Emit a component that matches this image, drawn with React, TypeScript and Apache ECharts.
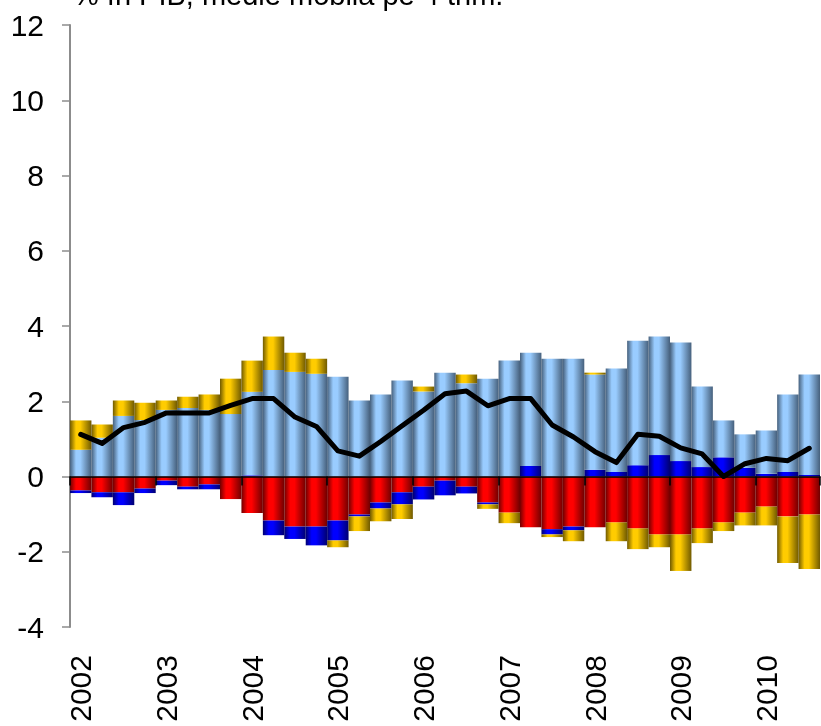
import React, { useEffect, useRef } from "react";
import * as echarts from "echarts";

const quarters = [
  "2002T1", "2002T2", "2002T3", "2002T4",
  "2003T1", "2003T2", "2003T3", "2003T4",
  "2004T1", "2004T2", "2004T3", "2004T4",
  "2005T1", "2005T2", "2005T3", "2005T4",
  "2006T1", "2006T2", "2006T3", "2006T4",
  "2007T1", "2007T2", "2007T3", "2007T4",
  "2008T1", "2008T2", "2008T3", "2008T4",
  "2009T1", "2009T2", "2009T3", "2009T4",
  "2010T1", "2010T2", "2010T3",
];

const seriesRed = [
  -0.37, -0.42, -0.42, -0.32, -0.11, -0.27, -0.21, -0.6,
  -0.97, -1.17, -1.33, -1.33, -1.17, -1.01, -0.69, -0.42,
  -0.27, -0.11, -0.27, -0.69, -0.96, -1.35, -1.4, -1.33,
  -1.35, -1.22, -1.38, -1.54, -1.54, -1.38, -1.22, -0.96,
  -0.8, -1.06, -1.01,
];

const seriesBlue = [
  -0.07, -0.13, -0.34, -0.12, -0.12, -0.07, -0.13, 0,
  0.03, -0.39, -0.33, -0.5, -0.53, -0.05, -0.16, -0.32,
  -0.34, -0.39, -0.18, -0.05, 0, 0.28, -0.14, -0.1,
  0.18, 0.12, 0.3, 0.57, 0.41, 0.25, 0.51, 0.23,
  0.07, 0.12, 0.04,
];

const seriesLightBlue = [
  0.71, 1.03, 1.61, 1.5, 1.77, 1.82, 1.77, 1.66,
  2.22, 2.83, 2.78, 2.73, 2.65, 2.02, 2.18, 2.55,
  2.26, 2.76, 2.48, 2.6, 3.08, 3.01, 3.13, 3.13,
  2.53, 2.75, 3.31, 3.15, 3.15, 2.14, 0.98, 0.89,
  1.15, 2.06, 2.67,
];

const seriesGold = [
  0.78, 0.35, 0.41, 0.46, 0.25, 0.3, 0.41, 0.94,
  0.83, 0.89, 0.51, 0.4, -0.18, -0.39, -0.34, -0.39,
  0.13, 0, 0.23, -0.12, -0.28, 0, -0.07, -0.29,
  0.05, -0.5, -0.55, -0.34, -0.97, -0.39, -0.23, -0.34,
  -0.5, -1.24, -1.45,
];

const seriesLine = [
  1.12, 0.88, 1.3, 1.44, 1.69, 1.69, 1.69, 1.89,
  2.07, 2.07, 1.58, 1.33, 0.68, 0.54, 0.93, 1.35,
  1.76, 2.2, 2.27, 1.88, 2.07, 2.07, 1.37, 1.05,
  0.66, 0.37, 1.12, 1.07, 0.76, 0.6, 0.0, 0.34,
  0.48, 0.42, 0.75,
];

const FONT = "'Liberation Sans', Arial, sans-serif";

function cyl(dark: string, light: string) {
  return new echarts.graphic.LinearGradient(0, 0, 1, 0, [
    { offset: 0, color: dark },
    { offset: 0.28, color: light },
    { offset: 0.48, color: light },
    { offset: 1, color: dark },
  ]);
}

export default function App() {
  const ref = useRef<HTMLDivElement>(null);
  useEffect(() => {
    const chart = echarts.init(ref.current!, null, { renderer: "svg" });
    chart.setOption({
      animation: false,
      textStyle: { fontFamily: FONT },
      grid: { left: 70, right: 1, top: 25, bottom: 99, outerBoundsMode: "none" },
      graphic: [
        {
          type: "text",
          x: 73,
          y: -5,
          style: {
            text: "% în PIB, medie mobilă pe 4 trim.",
            font: `29px ${FONT}`,
            fill: "#000",
            verticalAlign: "middle",
          },
        },
      ],
      xAxis: [
        {
          type: "category",
          data: quarters,
          boundaryGap: true,
          position: "bottom",
          z: 10,
          axisLine: { onZero: true, lineStyle: { color: "#000", width: 1.5 } },
          axisTick: { show: true, interval: 3, length: 9, lineStyle: { color: "#000", width: 1.5 } },
          axisLabel: { show: false },
          splitLine: { show: false },
        },
        {
          type: "category",
          data: quarters,
          boundaryGap: true,
          position: "bottom",
          axisLine: { show: false, onZero: false },
          axisTick: { show: false },
          axisLabel: {
            interval: 3,
            rotate: 90,
            margin: 28,
            fontSize: 30,
            color: "#000",
            fontFamily: FONT,
            formatter: (v: string) => v.slice(0, 4),
          },
          splitLine: { show: false },
        },
      ],
      yAxis: {
        type: "value",
        min: -4,
        max: 12,
        interval: 2,
        axisLine: { show: true, lineStyle: { color: "#8c8c8c", width: 2 } },
        axisTick: { show: true, length: 8, lineStyle: { color: "#8c8c8c", width: 1.5 } },
        axisLabel: { fontSize: 30, color: "#000", margin: 26, fontFamily: FONT },
        splitLine: { show: false },
      },
      series: [
        {
          name: "Seria 1",
          type: "bar",
          stack: "total",
          barCategoryGap: "0%",
          data: seriesRed,
          itemStyle: { color: cyl("#700000", "#ff0000") },
        },
        {
          name: "Seria 2",
          type: "bar",
          stack: "total",
          data: seriesBlue,
          itemStyle: { color: cyl("#000070", "#0000ff") },
        },
        {
          name: "Seria 3",
          type: "bar",
          stack: "total",
          data: seriesLightBlue,
          itemStyle: { color: cyl("#46607c", "#99ccff") },
        },
        {
          name: "Seria 4",
          type: "bar",
          stack: "total",
          data: seriesGold,
          itemStyle: { color: cyl("#705a00", "#ffcc00") },
        },
        {
          name: "Sold",
          type: "line",
          data: seriesLine,
          symbol: "none",
          z: 20,
          lineStyle: { color: "#000", width: 5, cap: "round", join: "round" },
        },
      ],
    });
    return () => chart.dispose();
  }, []);
  return (
    <div
      ref={ref}
      style={{ position: "fixed", left: 0, top: 0, width: 821, height: 726 }}
    />
  );
}
